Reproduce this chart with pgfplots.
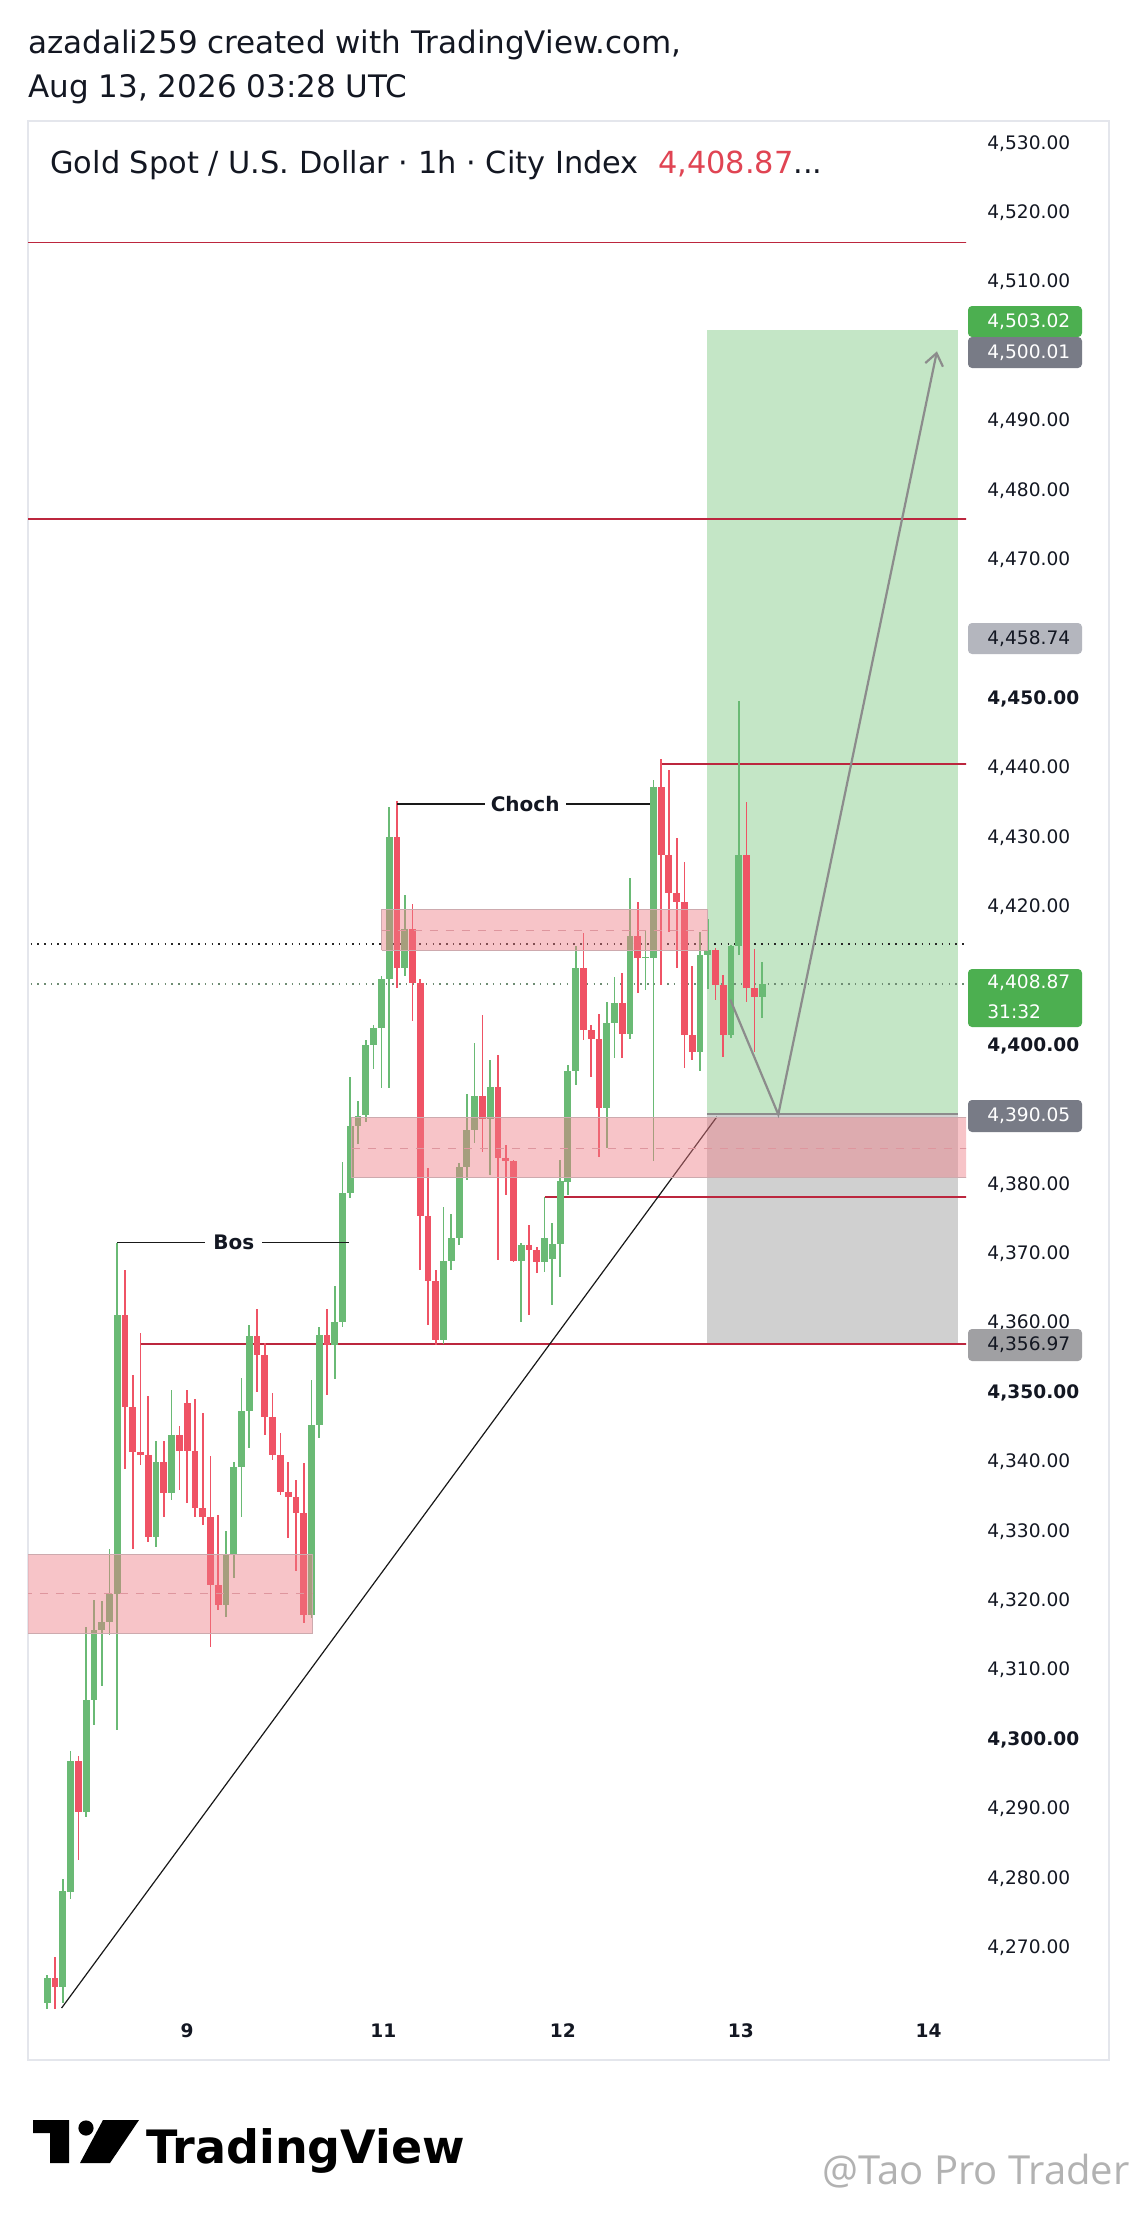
\documentclass[border=0pt]{standalone}
\usepackage{pgfplots}
\pgfplotsset{compat=1.18}
\usepackage{pgfplotstable}
\usepackage{fontspec}
\setmainfont{DejaVu Sans}
\newfontfamily\wmfont{Open Sans}
\usetikzlibrary{arrows.meta}

\definecolor{tvtext}{RGB}{19,23,34}
\definecolor{cgreen}{RGB}{106,186,117}
\definecolor{cred}{RGB}{239,83,101}
\definecolor{lred}{RGB}{188,38,62}
\definecolor{posgreen}{RGB}{196,230,198}
\definecolor{posgray}{RGB}{208,208,208}
\definecolor{entry}{RGB}{140,140,140}
\definecolor{zonefill}{RGB}{239,126,135}
\definecolor{zonebd}{RGB}{205,170,174}
\definecolor{zonemid}{RGB}{222,150,158}
\definecolor{panebd}{RGB}{228,230,236}
\definecolor{badgegreen}{RGB}{76,175,80}
\definecolor{badgedark}{RGB}{120,123,134}
\definecolor{badgelight}{RGB}{180,182,190}
\definecolor{badgemid}{RGB}{160,160,163}
\definecolor{titlered}{RGB}{224,68,83}
\definecolor{curdot}{RGB}{110,140,115}
\definecolor{arrowgray}{RGB}{140,140,140}

% green (up) candles: index open high low close
\pgfplotstableread{
i o h l c
0 4262.0 4266.0 4261.0 4265.6
2 4264.3 4279.9 4262.0 4278.1
3 4278.1 4298.3 4277.0 4296.9
5 4289.6 4316.2 4288.8 4305.7
6 4305.7 4320.1 4302.1 4315.8
7 4315.8 4320.0 4307.7 4317.0
8 4317.0 4327.5 4315.0 4320.9
9 4320.9 4371.6 4301.4 4361.2
14 4329.2 4343.0 4327.8 4340.0
16 4335.5 4350.4 4334.5 4343.9
23 4319.4 4330.0 4317.7 4326.6
24 4326.6 4340.0 4323.3 4339.3
25 4339.3 4352.1 4332.1 4347.3
26 4347.3 4359.7 4342.0 4358.1
34 4317.9 4351.8 4317.5 4345.3
35 4345.3 4359.5 4343.4 4358.3
37 4356.9 4365.3 4352.0 4360.1
38 4360.1 4383.2 4359.5 4378.8
39 4378.8 4395.4 4378.0 4388.4
40 4388.4 4392.0 4385.8 4389.8
41 4390.0 4400.8 4389.0 4400.0
42 4400.0 4403.0 4396.6 4402.5
43 4402.5 4410.0 4393.9 4409.6
44 4409.6 4434.4 4393.8 4430.0
46 4411.1 4421.7 4410.0 4416.8
51 4357.6 4376.7 4357.0 4369.0
52 4369.0 4375.7 4367.7 4372.3
53 4372.3 4383.0 4371.3 4382.5
54 4382.5 4393.0 4380.6 4387.8
55 4387.8 4400.3 4386.0 4392.7
57 4389.4 4397.9 4381.4 4394.0
61 4369.0 4371.5 4360.2 4371.3
64 4368.8 4378.2 4367.4 4372.2
65 4369.2 4374.4 4362.6 4371.4
66 4371.4 4383.5 4366.7 4380.4
67 4380.4 4397.2 4378.5 4396.3
68 4396.3 4414.3 4394.3 4411.1
72 4391.0 4406.3 4385.2 4403.2
73 4403.2 4409.9 4398.2 4406.1
75 4401.7 4424.1 4401.0 4415.8
77 4412.6 4416.7 4408.0 4412.8
78 4412.6 4438.2 4383.3 4437.3
84 4399.1 4416.4 4396.3 4413.0
85 4413.0 4418.2 4408.2 4413.8
88 4401.5 4414.5 4401.0 4414.3
89 4414.3 4449.6 4413.0 4427.5
92 4407.0 4412.0 4404.0 4408.87
}\upc

% red (down) candles
\pgfplotstableread{
i o h l c
1 4265.6 4268.6 4261.0 4264.3
4 4296.9 4297.6 4282.6 4289.6
10 4361.2 4367.7 4339.0 4347.9
11 4347.9 4352.5 4327.5 4341.4
12 4341.4 4358.5 4339.5 4341.0
13 4341.0 4349.5 4328.5 4329.2
15 4340.0 4343.0 4332.1 4335.5
17 4343.9 4345.2 4336.0 4341.6
18 4348.5 4350.3 4334.0 4341.6
19 4341.6 4349.1 4332.0 4333.3
20 4333.3 4347.1 4330.9 4332.1
21 4332.1 4340.8 4313.4 4322.3
22 4322.3 4332.4 4318.7 4319.4
27 4358.1 4362.0 4350.1 4355.4
28 4355.4 4357.1 4343.9 4346.5
29 4346.5 4349.9 4340.3 4341.0
30 4341.0 4344.1 4335.3 4335.7
31 4335.7 4340.0 4329.0 4335.0
32 4335.0 4337.4 4324.2 4332.6
33 4332.6 4339.8 4316.8 4317.9
36 4358.3 4362.0 4349.6 4356.9
45 4430.0 4435.2 4408.3 4411.1
47 4416.8 4420.4 4403.6 4409.0
48 4409.0 4409.5 4367.7 4375.4
49 4375.4 4382.4 4359.7 4366.1
50 4366.1 4367.7 4356.8 4357.6
56 4392.7 4404.4 4384.7 4389.4
58 4394.0 4398.6 4369.1 4383.8
59 4383.8 4385.7 4378.5 4383.3
60 4383.3 4383.5 4368.8 4369.0
62 4371.3 4374.1 4361.2 4370.6
63 4370.6 4371.0 4367.2 4368.8
69 4411.1 4416.2 4400.8 4402.2
70 4402.2 4403.0 4395.5 4400.9
71 4400.9 4404.6 4384.0 4391.0
74 4406.1 4410.4 4398.2 4401.7
76 4415.8 4420.7 4407.5 4412.6
79 4437.3 4441.3 4408.7 4427.5
80 4427.5 4439.7 4416.4 4421.9
81 4421.9 4429.9 4411.1 4420.7
82 4420.7 4426.5 4396.7 4401.5
83 4401.5 4411.4 4397.9 4399.1
86 4413.8 4414.0 4406.6 4408.7
87 4408.7 4410.2 4398.4 4401.5
90 4427.5 4435.1 4406.3 4408.3
91 4408.3 4413.9 4399.1 4407.0
}\downc

\begin{document}
\begin{tikzpicture}
\path[use as bounding box] (0,0) rectangle (568.5pt,-1113pt);
\fill[white] (0,0) rectangle (568.5pt,-1113pt);

% header
\node[anchor=west, inner sep=0pt, text=tvtext, font=\fontsize{15.5}{18}\selectfont] at (14pt,-22.5pt) {azadali259 created with TradingView.com,};
\node[anchor=west, inner sep=0pt, text=tvtext, font=\fontsize{15.5}{18}\selectfont] at (14pt,-44.5pt) {Aug 13, 2026 03:28 UTC};

% pane border
\draw[panebd, line width=0.6pt] (14pt,-60.5pt) rectangle (554.5pt,-1030pt);

\begin{axis}[
  at={(14pt,-60.5pt)}, anchor=north west,
  scale only axis, width=469pt, height=943.5pt,
  xmin=-2.484, xmax=118.24, ymin=4261.3, ymax=4533.2,
  axis line style={draw=none}, tick style={draw=none}, major tick length=0pt,
  ytick pos=right, yticklabel pos=right,
  ytick={4270,4280,4290,4300,4310,4320,4330,4340,4350,4360,4370,4380,4400,4420,4430,4440,4450,4470,4480,4490,4510,4520,4530},
  yticklabels={{4,270.00},{4,280.00},{4,290.00},{\textbf{4,300.00}},{4,310.00},{4,320.00},{4,330.00},{4,340.00},{\textbf{4,350.00}},{4,360.00},{4,370.00},{4,380.00},{\textbf{4,400.00}},{4,420.00},{4,430.00},{4,440.00},{\textbf{4,450.00}},{4,470.00},{4,480.00},{4,490.00},{4,510.00},{4,520.00},{4,530.00}},
  yticklabel style={anchor=west, inner sep=0pt, xshift=10.5pt, text=tvtext, font=\fontsize{9.3}{11}\selectfont},
  xtick={18,43.24,66.35,89.25,113.42},
  xticklabels={9,11,12,13,14},
  xticklabel style={anchor=center, inner sep=0pt, yshift=-11.5pt, text=tvtext, font=\bfseries\fontsize{9.3}{11}\selectfont},
]
% long position tool
\addplot[fill=posgreen, draw=none, forget plot] coordinates {(84.94,4390.05) (117.2,4390.05) (117.2,4503.02) (84.94,4503.02)};
\addplot[fill=posgray, draw=none, forget plot] coordinates {(84.94,4356.97) (117.2,4356.97) (117.2,4390.05) (84.94,4390.05)};
\addplot[entry, line width=1pt, forget plot] coordinates {(84.94,4390.05) (117.2,4390.05)};

% horizontal red levels
\addplot[lred, line width=0.9pt, forget plot] coordinates {(-3,4515.7) (119,4515.7)};
\addplot[lred, line width=0.9pt, forget plot] coordinates {(-3,4475.8) (119,4475.8)};
\addplot[lred, line width=0.9pt, forget plot] coordinates {(79,4440.6) (119,4440.6)};
\addplot[lred, line width=0.9pt, forget plot] coordinates {(64,4378.2) (119,4378.2)};
\addplot[lred, line width=0.9pt, forget plot] coordinates {(12,4356.97) (119,4356.97)};

% dotted lines
\addplot[black!85, line width=0.75pt, dash pattern=on 0.75pt off 2.6pt, forget plot] coordinates {(-3,4414.6) (119,4414.6)};
\addplot[curdot, line width=0.75pt, dash pattern=on 0.75pt off 2.6pt, forget plot] coordinates {(-3,4408.87) (119,4408.87)};

% trend line
\addplot[black!90, line width=0.6pt, forget plot] coordinates {(1.84,4261.3) (86.17,4389.7)};

% candles: wicks
\addplot[draw=none, mark=none, forget plot,
  error bars/.cd, y dir=both, y explicit, error mark=none,
  error bar style={draw=cgreen, line width=0.85pt}]
  table[x=i, y expr={(\thisrow{h}+\thisrow{l})/2}, y error expr={(\thisrow{h}-\thisrow{l})/2}] {\upc};
\addplot[draw=none, mark=none, forget plot,
  error bars/.cd, y dir=both, y explicit, error mark=none,
  error bar style={draw=cred, line width=0.85pt}]
  table[x=i, y expr={(\thisrow{h}+\thisrow{l})/2}, y error expr={(\thisrow{h}-\thisrow{l})/2}] {\downc};
% candles: bodies
\addplot[draw=none, mark=none, forget plot,
  error bars/.cd, y dir=both, y explicit, error mark=none,
  error bar style={draw=cgreen, line width=3.4pt}]
  table[x=i, y expr={(\thisrow{o}+\thisrow{c})/2}, y error expr={max(abs(\thisrow{c}-\thisrow{o})/2,0.12)}] {\upc};
\addplot[draw=none, mark=none, forget plot,
  error bars/.cd, y dir=both, y explicit, error mark=none,
  error bar style={draw=cred, line width=3.4pt}]
  table[x=i, y expr={(\thisrow{o}+\thisrow{c})/2}, y error expr={max(abs(\thisrow{c}-\thisrow{o})/2,0.12)}] {\downc};

% order-block zones
\addplot[fill=zonefill, fill opacity=0.45, draw=zonebd, line width=0.5pt, forget plot] coordinates {(-3,4315.3) (34.16,4315.3) (34.16,4326.6) (-3,4326.6) (-3,4315.3)};
\addplot[zonemid, line width=0.6pt, dash pattern=on 4pt off 4pt, forget plot] coordinates {(-3,4321) (34.16,4321)};
\addplot[fill=zonefill, fill opacity=0.45, draw=zonebd, line width=0.5pt, forget plot] coordinates {(39.2,4380.9) (119,4380.9) (119,4389.6) (39.2,4389.6) (39.2,4380.9)};
\addplot[zonemid, line width=0.6pt, dash pattern=on 4pt off 4pt, forget plot] coordinates {(39.2,4385.2) (119,4385.2)};
\addplot[fill=zonefill, fill opacity=0.45, draw=zonebd, line width=0.5pt, forget plot] coordinates {(43.04,4413.7) (85.0,4413.7) (85.0,4419.6) (43.04,4419.6) (43.04,4413.7)};
\addplot[zonemid, line width=0.6pt, dash pattern=on 4pt off 4pt, forget plot] coordinates {(43.04,4416.6) (85.0,4416.6)};

% Bos / Choch
\addplot[black!90, line width=0.9pt, forget plot] coordinates {(9,4371.6) (38.8,4371.6)};
\node[fill=white, inner xsep=4pt, inner ysep=1pt, text=tvtext, font=\bfseries\fontsize{10}{12}\selectfont] at (axis cs:24.0,4371.6) {Bos};
\addplot[black!90, line width=0.9pt, forget plot] coordinates {(45.07,4434.8) (77.6,4434.8)};
\node[fill=white, inner xsep=3pt, inner ysep=1pt, text=tvtext, font=\bfseries\fontsize{10}{12}\selectfont] at (axis cs:61.5,4434.8) {Choch};

% projection arrow
\addplot[arrowgray, line width=1.1pt, -{Straight Barb[length=6pt,width=9pt]}, forget plot] coordinates {(87.9,4406.6) (94.08,4390.05) (114.5,4500.01)};
\end{axis}

% title inside pane
\node[anchor=west, inner sep=0pt, text=tvtext, font=\fontsize{15.2}{18}\selectfont] at (25pt,-82.5pt) {Gold Spot / U.S. Dollar · 1h · City Index\ \ \textcolor{titlered}{4,408.87}...};

% price badges
\fill[badgegreen, rounded corners=2pt] (484pt,-153pt) rectangle (541pt,-168.5pt);
\node[anchor=west, inner sep=0pt, text=white, font=\fontsize{9.3}{11}\selectfont] at (493.5pt,-160.75pt) {4,503.02};
\fill[badgedark, rounded corners=2pt] (484pt,-168.5pt) rectangle (541pt,-184pt);
\node[anchor=west, inner sep=0pt, text=white, font=\fontsize{9.3}{11}\selectfont] at (493.5pt,-176.25pt) {4,500.01};
\fill[badgelight, rounded corners=2pt] (484pt,-311.5pt) rectangle (541pt,-327pt);
\node[anchor=west, inner sep=0pt, text=tvtext, font=\fontsize{9.3}{11}\selectfont] at (493.5pt,-319.25pt) {4,458.74};
\fill[badgegreen, rounded corners=2pt] (484pt,-484.5pt) rectangle (541pt,-513.5pt);
\node[anchor=west, inner sep=0pt, text=white, font=\fontsize{9.3}{11}\selectfont] at (493.5pt,-491.5pt) {4,408.87};
\node[anchor=west, inner sep=0pt, text=white, font=\fontsize{9.3}{11}\selectfont] at (493.5pt,-506pt) {31:32};
\fill[badgedark, rounded corners=2pt] (484pt,-550pt) rectangle (541pt,-566pt);
\node[anchor=west, inner sep=0pt, text=white, font=\fontsize{9.3}{11}\selectfont] at (493.5pt,-558pt) {4,390.05};
\fill[badgemid, rounded corners=2pt] (484pt,-664.5pt) rectangle (541pt,-680.5pt);
\node[anchor=west, inner sep=0pt, text=tvtext, font=\fontsize{9.3}{11}\selectfont] at (493.5pt,-672.5pt) {4,356.97};

% TradingView logo
\fill[black] (16.5pt,-1060pt) -- (34.5pt,-1060pt) -- (34.5pt,-1081.5pt) -- (25pt,-1081.5pt) -- (25pt,-1066.5pt) -- (16.5pt,-1066.5pt) -- cycle;
\fill[black] (43pt,-1064pt) circle (3.8pt);
\fill[black] (51.5pt,-1060pt) -- (69.5pt,-1060pt) -- (55pt,-1081.5pt) -- (40pt,-1081.5pt) -- cycle;
\node[anchor=base west, inner sep=0pt, text=black, font=\bfseries\fontsize{23}{27}\selectfont] at (73pt,-1081.5pt) {TradingView};

% watermark
\node[anchor=base east, inner sep=0pt, text=black!30, font=\wmfont\fontsize{20}{24}\selectfont] at (565pt,-1092pt) {@Tao Pro Trader};
\end{tikzpicture}
\end{document}
